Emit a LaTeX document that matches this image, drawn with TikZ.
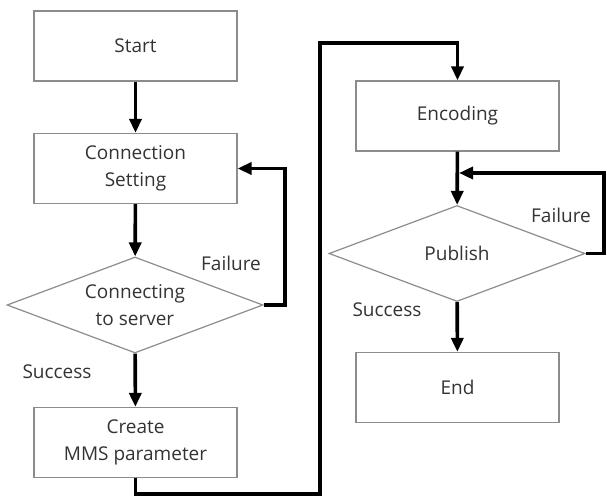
\documentclass[tikz,border=0pt]{standalone}
\usepackage{fontspec}
\setmainfont{Open Sans}
\usetikzlibrary{shapes.geometric,arrows.meta}

\begin{document}
\begin{tikzpicture}[
    x=1pt, y=-1pt,
    every node/.style={font=\fontsize{19}{27}\selectfont, text=black!80},
    box/.style={draw=black!45, line width=1.2pt, minimum width=203pt, minimum height=70pt, align=center, inner sep=0pt},
    decision/.style={diamond, aspect=2.67, draw=black!45, line width=1.2pt, minimum width=256pt, minimum height=96pt, align=center, inner sep=0pt},
    label/.style={inner sep=0pt},
    arrow/.style={-{Triangle[length=14pt,width=12pt]}, line width=3.6pt}
  ]
  \useasboundingbox (0,0) rectangle (607,502);

  % Left column
  \node[box] (start) at (135.5,46) {Start};
  \node[box] (setting) at (135.5,168.5) {Connection\\Setting};
  \node[decision] (connecting) at (135,305) {Connecting\\to server};
  \node[box] (create) at (135.5,442.5) {Create\\MMS parameter};

  \node[label] (fail1) at (231,263) {Failure};
  \node[label] (succ1) at (57,372) {Success};

  \draw[arrow] (start) -- (setting);
  \draw[arrow] (setting) -- (connecting);
  \draw[arrow] (connecting) -- (create);

  \coordinate (loopA) at (285,168.5);
  \draw[arrow] (connecting.east) -| (loopA) -- (setting.east);

  % Right column
  \node[box] (encoding) at (457.5,116) {Encoding};
  \node[decision] (publish) at (457,253.5) {Publish};
  \node[box] (end) at (457.5,387.5) {End};

  \node[label] (fail2) at (561,215) {Failure};
  \node[label] (succ2) at (387,310) {Success};

  \draw[arrow] (encoding) -- (publish);
  \draw[arrow] (publish) -- (end);

  \coordinate (loopB) at (604,173);
  \coordinate (joinB) at (459,173);
  \draw[arrow] (publish.east) -| (loopB) -- (joinB);

  % Link between columns
  \coordinate (jog1) at (320,494);
  \coordinate (jog2) at (320,43);
  \draw[arrow] (create.south) |- (jog1) -- (jog2) -| (encoding.north);

  \end{tikzpicture}
\end{document}
